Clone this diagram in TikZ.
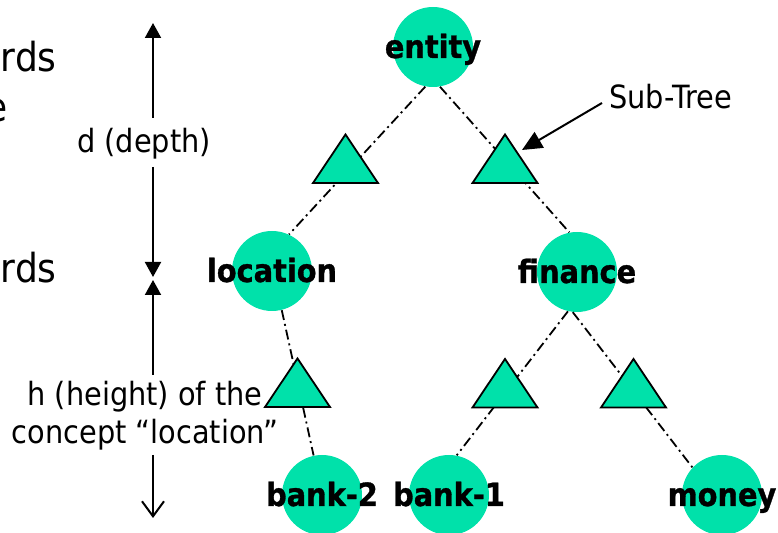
\documentclass[tikz,border=0pt]{standalone}
\usepackage{fontspec}
\setmainfont[FakeStretch=0.9,BoldFeatures={FakeBold=1}]{DejaVu Sans}
\usetikzlibrary{arrows.meta}
\definecolor{concgreen}{RGB}{0,225,170}
\begin{document}
\begin{tikzpicture}[x=0.5pt,y=-0.5pt,
  circ/.style={circle,fill=concgreen,minimum size=40pt,inner sep=0pt},
  lbl/.style={font=\fontsize{16}{18}\selectfont\bfseries,inner sep=0pt,
    text height=11.5pt,text depth=2.5pt,yshift=-1pt},
  txt/.style={font=\fontsize{16}{19}\selectfont,inner sep=0pt},
  big/.style={font=\fontsize{20}{24}\selectfont,inner sep=0pt},
  link/.style={line width=0.9pt,dash pattern=on 5pt off 2pt on 1pt off 2pt},
  tri/.style={fill=concgreen,draw=black,line width=0.9pt,line join=miter},
  subtree/.pic={\path[tri] (-32.5,0) -- (32.5,0) -- (0,-48.5) -- cycle;},
  dimarrow/.style={line width=1pt},
  filltip/.style={-{Triangle[length=7.5pt,width=8pt]}},
  opentip/.style={-{Straight Barb[length=7.5pt,width=11pt,line width=1pt]}}
]
\useasboundingbox (0,0) rectangle (778,533);

% cropped slide text on the left
\node[big,anchor=base east] (w1) at (57,72) {rds};
\node[big,anchor=base east] (w2) at (8,122) {e};
\node[big,anchor=base east] (w3) at (57,283) {rds};

% concept nodes
\node[circ,label={[lbl]center:entity}] (entity) at (433,47) {};
\node[circ,label={[lbl]center:location}] (location) at (272,271) {};
\node[circ,label={[lbl]center:finance}] (finance) at (577,272) {};
\node[circ,label={[lbl]center:bank-2}] (bank2) at (322,495) {};
\node[circ,label={[lbl]center:bank-1}] (bank1) at (449,495) {};
\node[circ,label={[lbl]center:money}] (money) at (722,495) {};

% dash-dot links
\draw[link] (entity.259) -- (location.65);
\draw[link] (entity.280) -- (finance.101);
\draw[link] (location.284) -- (bank2.102);
\draw[link] (finance.257) -- (bank1.79);
\draw[link] (finance.264) -- (money.137);

% sub-tree triangles
\pic at (345.5,183) {subtree};
\pic at (505,183) {subtree};
\pic at (297.5,407) {subtree};
\pic at (505,407.5) {subtree};
\pic at (633.5,407.5) {subtree};

% Sub-Tree annotation
\node[txt,anchor=west] (sublbl) at (609,97) {Sub-Tree};
\coordinate (subtail) at (602,103);
\coordinate (subtip) at (522,150);
\draw[dimarrow,-{Triangle[length=10pt,width=9pt]}] (subtail) -- (subtip);

% depth dimension
\node[txt] (dlabel) at (144,144) {d (depth)};
\coordinate (dtop) at (153,23);
\coordinate (dtopgap) at (153,118);
\coordinate (dbotgap) at (153,167);
\coordinate (dbot) at (153,277);
\draw[dimarrow,filltip] (dtopgap) -- (dtop);
\draw[dimarrow,filltip] (dbotgap) -- (dbot);

% height dimension
\node[txt,align=center] (hlabel) at (145,416) {h (height) of the\\concept “location”};
\coordinate (htop) at (153,280);
\coordinate (htopgap) at (153,375);
\coordinate (hbotgap) at (153,455);
\coordinate (hbot) at (153,518);
\draw[dimarrow,filltip] (htopgap) -- (htop);
\draw[dimarrow,opentip] (hbotgap) -- (hbot);
\end{tikzpicture}
\end{document}
